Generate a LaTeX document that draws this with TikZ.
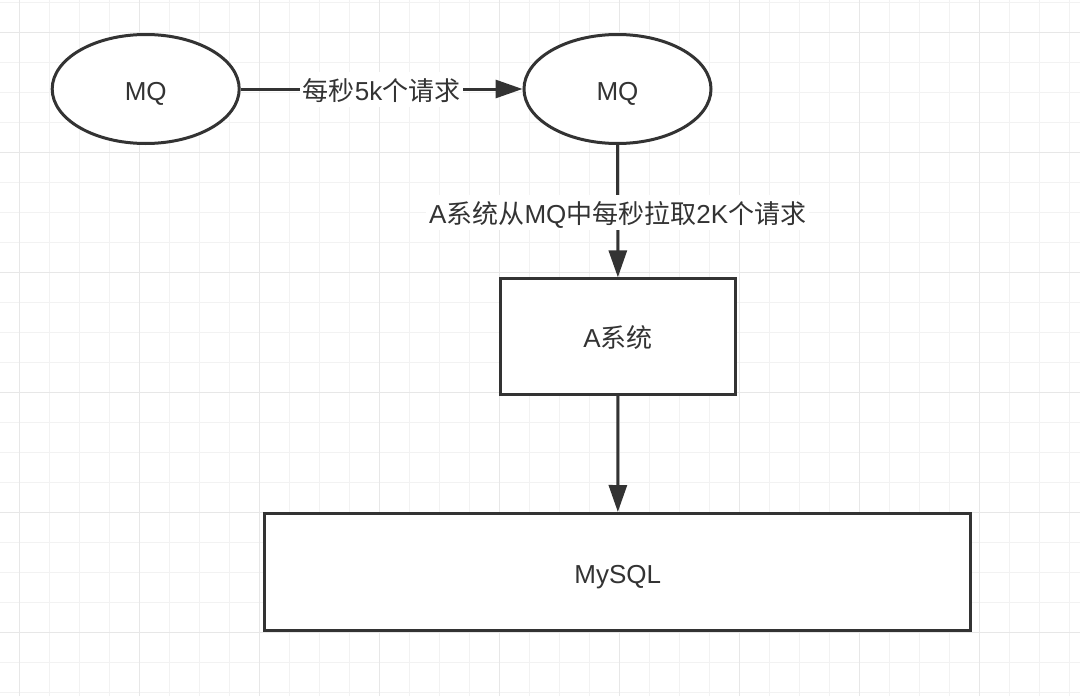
\documentclass[tikz,border=0pt]{standalone}
\usepackage{fontspec}
\setmainfont{Liberation Sans}
\newfontfamily\cjk{Noto Sans CJK SC}
\newcommand\zh[1]{{\cjk #1}}
\usetikzlibrary{arrows.meta,shapes.geometric}
\definecolor{ink}{HTML}{333333}
\definecolor{gridminor}{HTML}{F2F2F2}
\definecolor{gridmajor}{HTML}{E7E7E7}
\begin{document}
\begin{tikzpicture}[x=1pt,y=-1pt,
  every node/.style={text=ink, font=\fontsize{26}{30}\selectfont, text height=22pt, text depth=0pt},
  mqnode/.style={ellipse, draw=ink, line width=3pt, fill=white, minimum width=187pt, minimum height=109pt, inner sep=0pt},
  boxnode/.style={rectangle, draw=ink, line width=3pt, fill=white, inner sep=0pt},
  flow/.style={draw=ink, line width=3pt, -{Triangle[length=27pt,width=18pt]}},
  edgelabel/.style={fill=white, inner xsep=3pt, inner ysep=6.5pt}]
\useasboundingbox (0,0) rectangle (1080,696);
\fill[white] (0,0) rectangle (1080,696);
% grid
\foreach \i in {0,...,35} { \draw[gridminor, line width=1.2pt] ({19.3+30*\i},0) -- ({19.3+30*\i},696); }
\foreach \j in {0,...,23} { \draw[gridminor, line width=1.2pt] (0,{2.7+30*\j}) -- (1080,{2.7+30*\j}); }
\foreach \i in {0,4,...,32} { \draw[gridmajor, line width=1.2pt] ({19.3+30*\i},0) -- ({19.3+30*\i},696); }
\foreach \j in {1,5,...,21} { \draw[gridmajor, line width=1.2pt] (0,{2.7+30*\j}) -- (1080,{2.7+30*\j}); }
% nodes
\node[mqnode] (mq1) at (145.7,89) {MQ};
\node[mqnode] (mq2) at (617.5,89) {MQ};
\node[boxnode, minimum width=234.4pt, minimum height=115.7pt] (asys) at (618,336.7) {A\zh{系统}};
\node[boxnode, minimum width=706pt, minimum height=117pt] (mysql) at (617.8,572) {MySQL};
% connectors
\draw[flow] (mq1) -- node[edgelabel] {\zh{每秒}5k\zh{个请求}} (mq2);
\draw[flow] (mq2) -- node[edgelabel, yshift=-1.5pt] {A\zh{系统从}MQ\zh{中每秒拉取}2K\zh{个请求}} (asys);
\draw[flow] (asys) -- (mysql);
\end{tikzpicture}
\end{document}
